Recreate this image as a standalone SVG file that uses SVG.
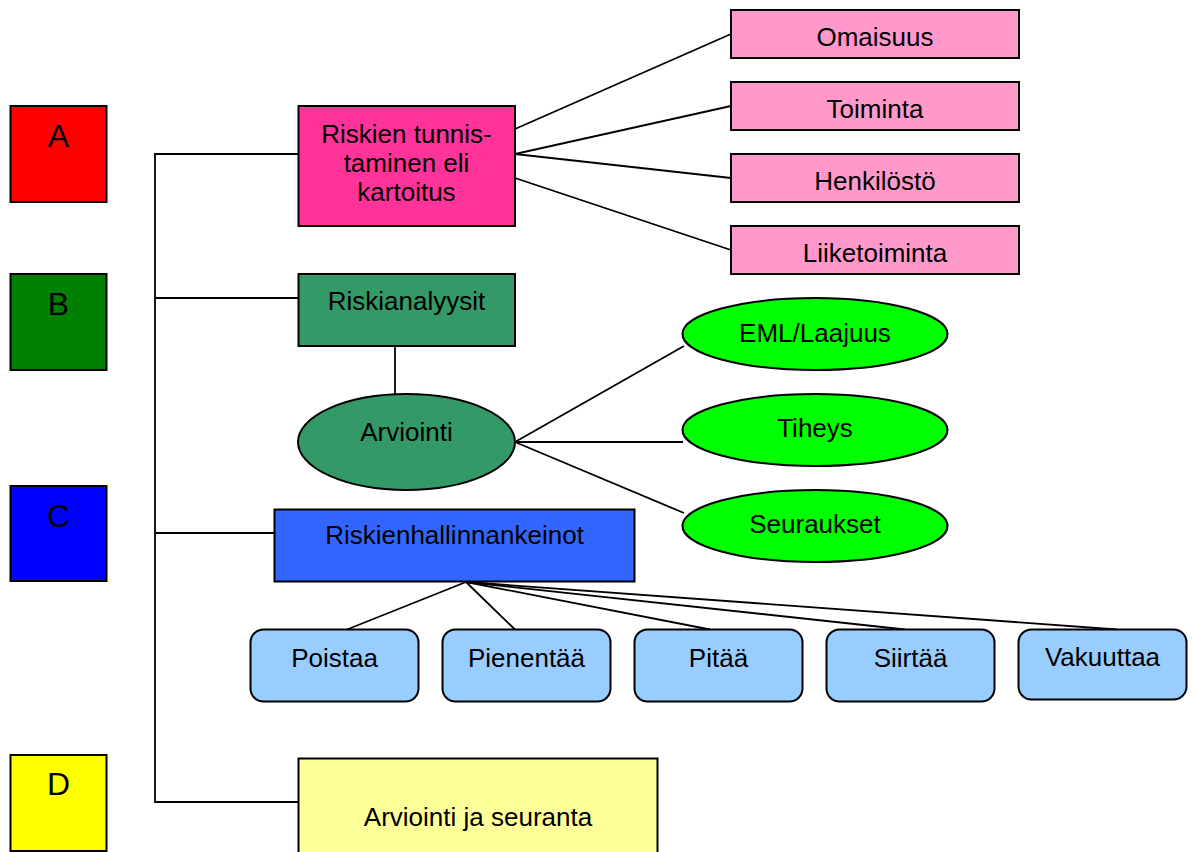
<svg xmlns="http://www.w3.org/2000/svg" width="1193" height="852" viewBox="0 0 1193 852">
<style>
.s{stroke:#000;stroke-width:2}
.ln{stroke:#000;stroke-width:1.8;fill:none}
text{font-family:"Liberation Sans",Arial,sans-serif;font-size:26px;fill:#000;text-anchor:middle}
.big{font-size:32px}
.pk{fill:#FF99CC}
.bl{fill:#99CCFF}
.gr{fill:#00FF00}
</style>
<rect width="1193" height="852" fill="#fff"/>
<g id="connectors">
<polyline class="ln" points="299,154 155,154 155,802 298,802"/>
<line class="ln" x1="155" y1="298" x2="299" y2="298"/>
<line class="ln" x1="155" y1="533" x2="275" y2="533"/>
<line class="ln" x1="515" y1="129" x2="731" y2="34"/>
<line class="ln" x1="515" y1="154" x2="731" y2="106"/>
<line class="ln" x1="515" y1="154" x2="731" y2="178"/>
<line class="ln" x1="515" y1="178" x2="731" y2="250"/>
<line class="ln" x1="395" y1="346" x2="395" y2="394"/>
<line class="ln" x1="515" y1="442" x2="684" y2="346"/>
<line class="ln" x1="515" y1="442" x2="683" y2="442"/>
<line class="ln" x1="515" y1="442" x2="684" y2="513"/>
<line class="ln" x1="466" y1="582" x2="347" y2="629.5"/>
<line class="ln" x1="466" y1="582" x2="515" y2="629.5"/>
<line class="ln" x1="466" y1="582" x2="710" y2="629.5"/>
<line class="ln" x1="466" y1="582" x2="905" y2="629.5"/>
<line class="ln" x1="466" y1="582" x2="1117" y2="629.5"/>
</g>
<g id="A"><rect class="s" x="10.5" y="106" width="96" height="96" fill="#FF0000"/><text class="big" x="58.5" y="147">A</text></g>
<g id="B"><rect class="s" x="10.5" y="274" width="96" height="96" fill="#008000"/><text class="big" x="58.5" y="315">B</text></g>
<g id="C"><rect class="s" x="10.5" y="486" width="96" height="95" fill="#0000FF"/><text class="big" x="58.5" y="527">C</text></g>
<g id="D"><rect class="s" x="10.5" y="755" width="96" height="96" fill="#FFFF00"/><text class="big" x="58.5" y="795">D</text></g>
<g id="riskien"><rect class="s" x="298.5" y="106" width="216.5" height="120" fill="#FF3399"/>
<text x="406.5" y="143">Riskien tunnis-</text><text x="406.5" y="172">taminen eli</text><text x="406.5" y="201">kartoitus</text></g>
<g id="omaisuus"><rect class="s pk" x="731" y="10" width="288" height="48"/><text x="875" y="46">Omaisuus</text></g>
<g id="toiminta"><rect class="s pk" x="731" y="82" width="288" height="48"/><text x="875" y="118">Toiminta</text></g>
<g id="henkilosto"><rect class="s pk" x="731" y="154" width="288" height="48"/><text x="875" y="190">Henkilöstö</text></g>
<g id="liiketoiminta"><rect class="s pk" x="731" y="226" width="288" height="48"/><text x="875" y="262">Liiketoiminta</text></g>
<g id="riskianalyysit"><rect class="s" x="298.5" y="274" width="216.5" height="72" fill="#339966"/><text x="406.5" y="310">Riskianalyysit</text></g>
<g id="arviointi"><ellipse class="s" cx="406.5" cy="442" rx="108.5" ry="48" fill="#339966"/><text x="406.5" y="441">Arviointi</text></g>
<g id="eml"><ellipse class="s gr" cx="815" cy="334" rx="132.5" ry="36"/><text x="815" y="342">EML/Laajuus</text></g>
<g id="tiheys"><ellipse class="s gr" cx="815" cy="430" rx="132.5" ry="36"/><text x="815" y="437">Tiheys</text></g>
<g id="seuraukset"><ellipse class="s gr" cx="815" cy="526" rx="132.5" ry="36"/><text x="815" y="533">Seuraukset</text></g>
<g id="keinot"><rect class="s" x="274.5" y="509.5" width="360" height="72" fill="#3366FF"/><text x="454.5" y="544">Riskienhallinnankeinot</text></g>
<g id="poistaa"><rect class="s bl" x="250.5" y="629.5" width="168" height="72" rx="13"/><text x="334.5" y="667">Poistaa</text></g>
<g id="pienentaa"><rect class="s bl" x="442.5" y="629.5" width="168" height="72" rx="13"/><text x="526.5" y="667">Pienentää</text></g>
<g id="pitaa"><rect class="s bl" x="634.5" y="629.5" width="168" height="72" rx="13"/><text x="718.5" y="667">Pitää</text></g>
<g id="siirtaa"><rect class="s bl" x="826.5" y="629.5" width="168" height="72" rx="13"/><text x="910.5" y="667">Siirtää</text></g>
<g id="vakuuttaa"><rect class="s bl" x="1018.5" y="629.5" width="168" height="70" rx="13"/><text x="1102.5" y="666">Vakuuttaa</text></g>
<g id="seuranta"><rect class="s" x="298.5" y="758.5" width="359" height="100" fill="#FFFF99"/><text x="478" y="826">Arviointi ja seuranta</text></g>
</svg>
